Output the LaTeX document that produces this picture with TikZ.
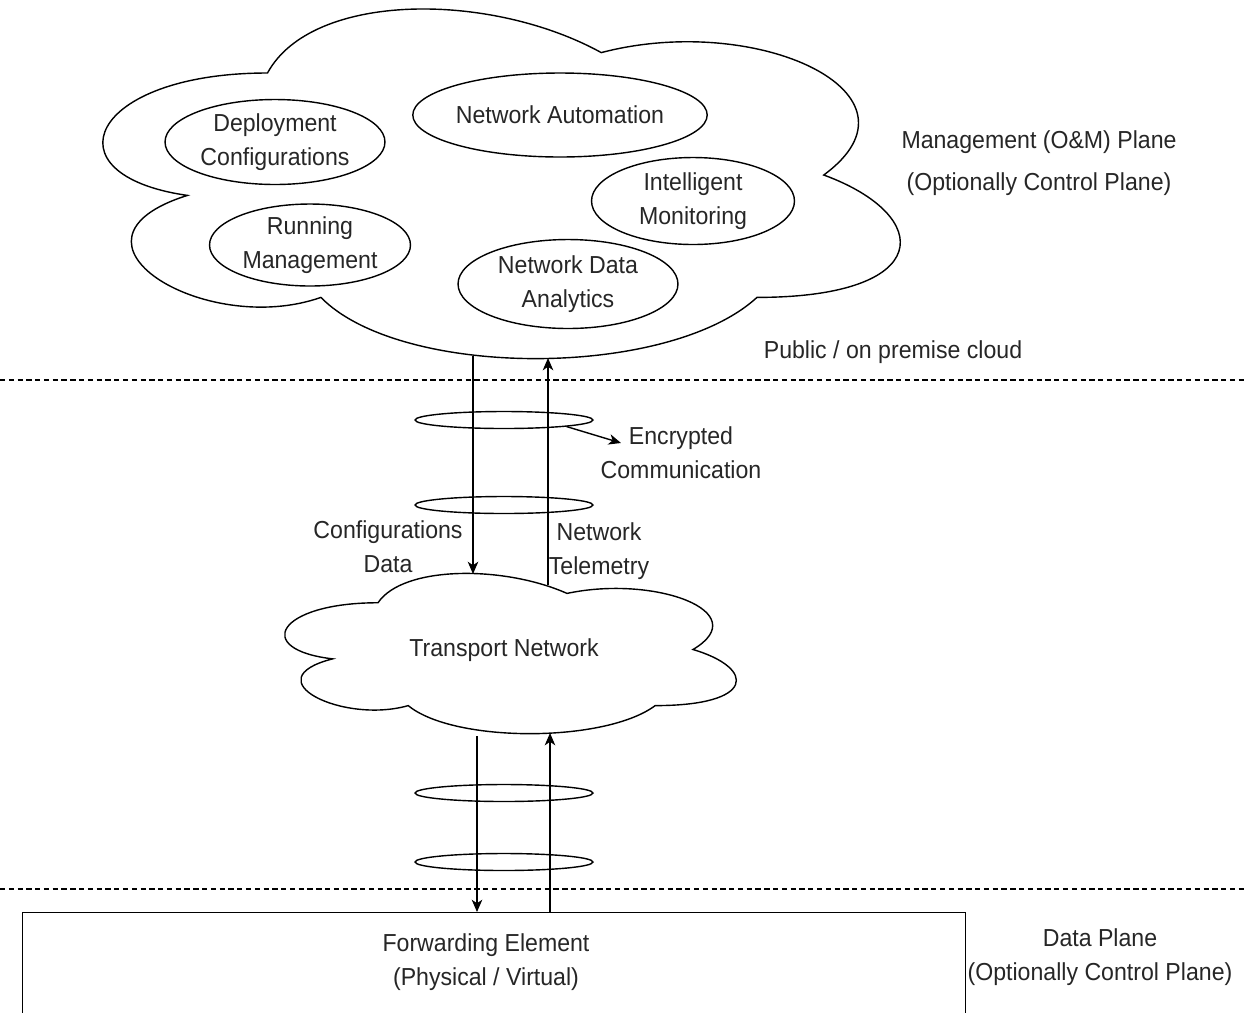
\documentclass[tikz,border=0pt]{standalone}
\usepackage{fontspec}
\setmainfont{Liberation Sans}[FakeStretch=0.94]
\usetikzlibrary{arrows.meta,shapes.geometric}
% cloud outline: x0, y0, width, height
\newcommand{\mxcloud}[4]{%
  \begin{scope}[shift={(#1,#2)},xscale=#3,yscale=#4]
    \draw[line width=0.8pt] (0.25,0.25) .. controls (0.05,0.25) and (0,0.5) .. (0.16,0.55)
      .. controls (0,0.66) and (0.18,0.9) .. (0.31,0.8)
      .. controls (0.4,1) and (0.7,1) .. (0.8,0.8)
      .. controls (1,0.8) and (1,0.6) .. (0.875,0.5)
      .. controls (1,0.3) and (0.8,0.1) .. (0.625,0.2)
      .. controls (0.5,0.05) and (0.3,0.05) .. (0.25,0.25) -- cycle;
  \end{scope}}
\begin{document}
\begin{tikzpicture}[x=0.02cm,y=-0.02cm,
    lbl/.style={font=\fontsize{14}{19.3}\selectfont,text=black!85,align=center},
    bubble/.style={draw,ellipse,line width=0.8pt,inner sep=0pt,lbl},
    ring/.style={draw,ellipse,line width=0.8pt,minimum width=3.56cm,minimum height=0.34cm,inner sep=0pt},
    flow/.style={line width=0.8pt,-{Stealth[length=7pt,width=6pt,inset=2pt]}},
    sep/.style={line width=0.7pt,dash pattern=on 3pt off 2pt}]
  \useasboundingbox (0,0) rectangle (1247,1012);
  \clip (0,0) rectangle (1247,1012);
  % management cloud
  \mxcloud{45}{-29}{890}{408}
  \node[bubble,minimum width=4.4cm,minimum height=1.7cm] (deploy) at (275,142) {Deployment\\Configurations};
  \node[bubble,minimum width=5.2cm,minimum height=1.68cm] (automation) at (560,115) {Network Automation};
  \node[bubble,minimum width=4.06cm,minimum height=1.74cm] (monitor) at (693,201) {Intelligent\\Monitoring};
  \node[bubble,minimum width=4.02cm,minimum height=1.64cm] (running) at (310,245) {Running\\Management};
  \node[bubble,minimum width=4.4cm,minimum height=1.78cm] (analytics) at (568,284) {Network Data\\Analytics};
  \node[lbl] (mgmtplane) at (1039,163) {Management (O\&M) Plane\\[5pt](Optionally Control Plane)};
  \node[lbl] (cloudtype) at (893,352) {Public / on premise cloud};
  \draw[sep] (0,380) -- (1247,380);
  % transport cloud
  \mxcloud{252}{556}{504}{187}
  \node[lbl] (transport) at (504,650) {Transport Network};
  % forwarding element
  \draw[sep] (0,889) -- (1247,889);
  \node[draw,line width=0.8pt,anchor=north west,minimum width=18.86cm,minimum height=2.5cm,inner sep=0pt] (fwd) at (22,912) {};
  \node[lbl] (fwdtxt) at (486,962) {Forwarding Element\\(Physical / Virtual)};
  \node[lbl] (dataplane) at (1100,957) {Data Plane\\(Optionally Control Plane)};
  % encrypted links
  \node[ring] (ring1) at (504,420) {};
  \node[ring] (ring2) at (504,505) {};
  \node[ring] (ring3) at (504,793) {};
  \node[ring] (ring4) at (504,862) {};
  \coordinate (mgmtA) at (473,356);
  \coordinate (tnA) at (473,574);
  \coordinate (tnB) at (548,585);
  \coordinate (mgmtB) at (548,358);
  \coordinate (tnC) at (477,736);
  \coordinate (fwdC) at (477,912);
  \coordinate (fwdD) at (550,912);
  \coordinate (tnD) at (550,733);
  \coordinate (enctip) at (621,443);
  \draw[flow] (mgmtA) -- (tnA);
  \draw[flow] (tnB) -- (mgmtB);
  \draw[flow] (tnC) -- (fwdC);
  \draw[flow] (fwdD) -- (tnD);
  \draw[flow] (ring1.-6) -- (enctip);
  \node[lbl] (enc) at (681,453) {Encrypted\\Communication};
  \node[lbl] (cfgdata) at (388,547) {Configurations\\Data};
  \node[lbl] (telemetry) at (599,551) {Network\\Telemetry};
\end{tikzpicture}
\end{document}
